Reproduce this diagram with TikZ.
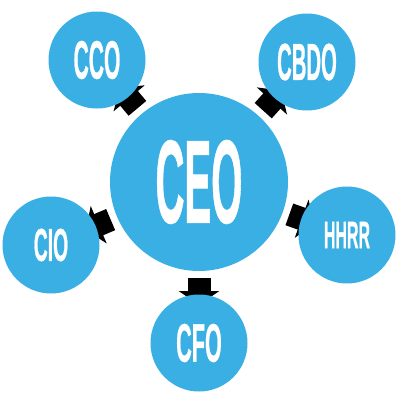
\documentclass[tikz,border=0pt]{standalone}
\usepackage{fontspec}
\usepackage{graphicx}
\usetikzlibrary{arrows.meta,calc,backgrounds}
\newfontfamily\lblfont{Liberation Sans Bold}[FakeBold=1]
\definecolor{orgblue}{RGB}{58,175,228}
\tikzset{
  bubble/.style={circle, fill=orgblue, inner sep=0pt, text=white, font=\lblfont},
  bigbubble/.style={bubble, minimum size=178pt},
  smallbubble/.style={bubble, minimum size=97pt},
  blockarrow/.style={draw=black, line width=23pt, -{Triangle[length=14pt,width=40pt]}}
}
\newcommand{\lbl}[3]{\fontsize{#1}{#1}\selectfont\scalebox{#2}[1]{#3}}
\begin{document}
\begin{tikzpicture}[x=1pt,y=-1pt]
\useasboundingbox (0,0) rectangle (400,400);
\node[bigbubble] (ceo) at (199,182) {\lbl{118}{0.34}{CEO}};
\node[smallbubble] (cco) at (97,60) {\lbl{54}{0.39}{CCO}};
\node[smallbubble] (cbdo) at (307,62) {\lbl{52}{0.39}{CBDO}};
\node[smallbubble] (cio) at (51,245) {\lbl{46}{0.42}{CIO}};
\node[smallbubble] (hhrr) at (347,235) {\lbl{38}{0.42}{HHRR}};
\node[smallbubble] (cfo) at (199,343) {\lbl{54}{0.40}{CFO}};
\begin{scope}[on background layer]
\foreach \t in {cco,cbdo,cio,hhrr,cfo}{
  \draw[blockarrow] ($(ceo.center)!96pt!(\t.center)$) -- ($(ceo.center)!123pt!(\t.center)$);
}
\end{scope}
\end{tikzpicture}
\end{document}
